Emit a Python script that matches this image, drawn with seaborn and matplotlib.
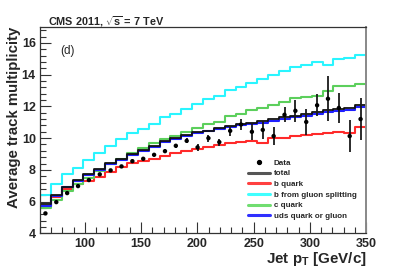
import numpy as np
import matplotlib
matplotlib.use("Agg")
import matplotlib.pyplot as plt
from matplotlib.lines import Line2D
from matplotlib.ticker import MultipleLocator, FixedLocator
import seaborn as sns

# ---------------- data ----------------
pt_min, pt_max, n_bins = 60, 350, 30

data_vals = [5.26, 5.97, 6.54, 6.98, 7.36, 7.72, 7.97, 8.22, 8.55, 8.70,
             8.95, 9.18, 9.52, 9.83, 9.42, 10.00, 9.75, 10.46, 10.86, 10.40,
             10.52, 10.13, 11.47, 11.72, 11.02, 12.07, 12.48, 11.90, 10.13, 11.20]
data_err = [0.04, 0.04, 0.05, 0.05, 0.06, 0.06, 0.07, 0.08, 0.08, 0.09,
            0.10, 0.11, 0.13, 0.15, 0.20, 0.22, 0.22, 0.30, 0.35, 0.50,
            0.55, 0.55, 0.48, 0.70, 0.82, 0.68, 1.43, 0.95, 1.02, 1.31]

total = [5.85, 6.42, 6.95, 7.36, 7.72, 8.05, 8.45, 8.70, 9.00, 9.27,
         9.50, 9.80, 10.00, 10.20, 10.38, 10.48, 10.61, 10.78, 10.90, 10.97,
         11.08, 11.18, 11.30, 11.40, 11.50, 11.62, 11.75, 11.82, 11.90, 12.07]
b_quark = [5.72, 6.30, 6.78, 7.10, 7.30, 7.57, 7.88, 8.16, 8.41, 8.55,
           8.68, 8.89, 9.04, 9.20, 9.31, 9.45, 9.56, 9.67, 9.77, 9.80,
           9.67, 9.98, 10.04, 10.12, 10.19, 10.28, 10.33, 10.38, 10.30, 10.70]
b_gsplit = [6.40, 7.10, 7.75, 8.15, 8.60, 9.05, 9.50, 9.95, 10.30, 10.60,
            10.90, 11.30, 11.55, 11.85, 12.15, 12.45, 12.65, 13.05, 13.20, 13.50,
            13.75, 13.95, 14.25, 14.45, 14.60, 14.80, 14.60, 15.00, 15.05, 15.25]
c_quark = [5.58, 6.12, 6.68, 7.08, 7.50, 7.92, 8.35, 8.68, 9.05, 9.40,
           9.68, 9.95, 10.12, 10.40, 10.65, 10.90, 11.03, 11.40, 11.55, 11.75,
           11.87, 12.08, 12.28, 12.50, 12.60, 12.66, 13.00, 13.27, 13.30, 13.38]
uds = [5.75, 6.35, 6.90, 7.30, 7.68, 8.00, 8.40, 8.65, 8.95, 9.22,
       9.45, 9.75, 9.95, 10.15, 10.32, 10.42, 10.55, 10.70, 10.82, 10.88,
       10.98, 11.08, 11.20, 11.30, 11.40, 11.50, 11.62, 11.70, 11.78, 11.93]

labels = ["Data", "total", "b quark", "b from gluon splitting", "c quark",
          "uds quark or gluon"]
x_ticks = [100, 150, 200, 250, 300, 350]
y_ticks = [4, 6, 8, 10, 12, 14, 16]

# ---------------- style ----------------
sns.set_style("ticks")
plt.rcParams["font.family"] = ["Liberation Sans", "DejaVu Sans"]
plt.rcParams["mathtext.fontset"] = "custom"
plt.rcParams["mathtext.rm"] = "Liberation Sans"
plt.rcParams["mathtext.bf"] = "Liberation Sans:bold"
plt.rcParams["mathtext.it"] = "Liberation Sans:italic"

W, H = 407, 274
fig = plt.figure(figsize=(W / 100, H / 100), dpi=100)
fig.patch.set_facecolor("white")
ax = fig.add_axes([40 / W, (H - 233.4) / H, 326 / W, (233.4 - 27) / H])
ax.set_facecolor("white")

edges = np.linspace(pt_min, pt_max, n_bins + 1)
centers = 0.5 * (edges[:-1] + edges[1:])

series = [
    (b_quark, "#ff2a2a", 1.5),
    (b_gsplit, "#2af5ff", 1.5),
    (c_quark, "#5ccf5c", 1.5),
    (uds, "#1f1fff", 1.5),
    (total, "#111111", 1.3),
]
for vals, col, lw in series:
    yv = np.append(vals, vals[-1])
    sns.lineplot(x=edges, y=yv, drawstyle="steps-post", color=col, lw=lw,
                 ax=ax, estimator=None, sort=False, legend=False)

ax.errorbar(centers, data_vals, yerr=data_err, fmt="none", ecolor="#1a1a1a",
            elinewidth=1.3, capsize=0, zorder=5)
sns.scatterplot(x=centers, y=data_vals, color="black", s=10, marker="o",
                edgecolor="none", ax=ax, zorder=6, legend=False)

ax.set_xlim(pt_min, pt_max)
ax.set_ylim(4, 17)
ax.xaxis.set_major_locator(FixedLocator(x_ticks))
ax.xaxis.set_minor_locator(MultipleLocator(10))
ax.yaxis.set_major_locator(FixedLocator(y_ticks))
ax.yaxis.set_minor_locator(MultipleLocator(0.4))
ax.tick_params(which="major", direction="in", length=8, width=0.8,
               color="#333333", labelsize=9, pad=3)
ax.tick_params(which="minor", direction="in", length=4, width=0.8,
               color="#333333")
ax.tick_params(top=False, right=False, which="both")
for lab in ax.get_xticklabels() + ax.get_yticklabels():
    lab.set_fontweight("bold")
for s in ax.spines.values():
    s.set_visible(True)
    s.set_color("#333333")
    s.set_linewidth(0.9)
ax.spines["right"].set_color("#888888")
ax.spines["right"].set_linewidth(1.4)
ax.set_xlabel("")
ax.set_ylabel("")

# texts
fig.text(48 / W, 1 - 25 / H, r"CMS 2011, $\mathbf{\sqrt{s}}$ = 7 TeV",
         ha="left", va="baseline", fontsize=7.8, fontweight="bold")
fig.text(60 / W, 1 - 51 / H, "(d)", ha="left", va="center", fontsize=8.5)
fig.text(367 / W, 1 - 263 / H, r"Jet $\mathbf{p_T}$ [GeV/c]", ha="right",
         va="baseline", fontsize=10.9, fontweight="bold")
fig.text(14 / W, 1 - 27 / H, "Average track multiplicity", rotation=90,
         ha="center", va="top", fontsize=10.8, fontweight="bold")

handles = [Line2D([], [], marker="o", linestyle="none", color="black",
                  markersize=2.8)]
for col in ["#555555", "#ff4040", "#40ffff", "#70dd70", "#3030ff"]:
    handles.append(Line2D([], [], color=col, lw=2.2))
leg = ax.legend(handles, labels, loc="upper left",
                bbox_to_anchor=(248 / W, 1 - 159 / H),
                bbox_transform=fig.transFigure, frameon=False,
                prop={"size": 5.8, "weight": "bold"}, handlelength=2.7,
                handletextpad=0.5, labelspacing=0.38, borderpad=0,
                borderaxespad=0)

fig.savefig("out.png", dpi=100, facecolor="white")
